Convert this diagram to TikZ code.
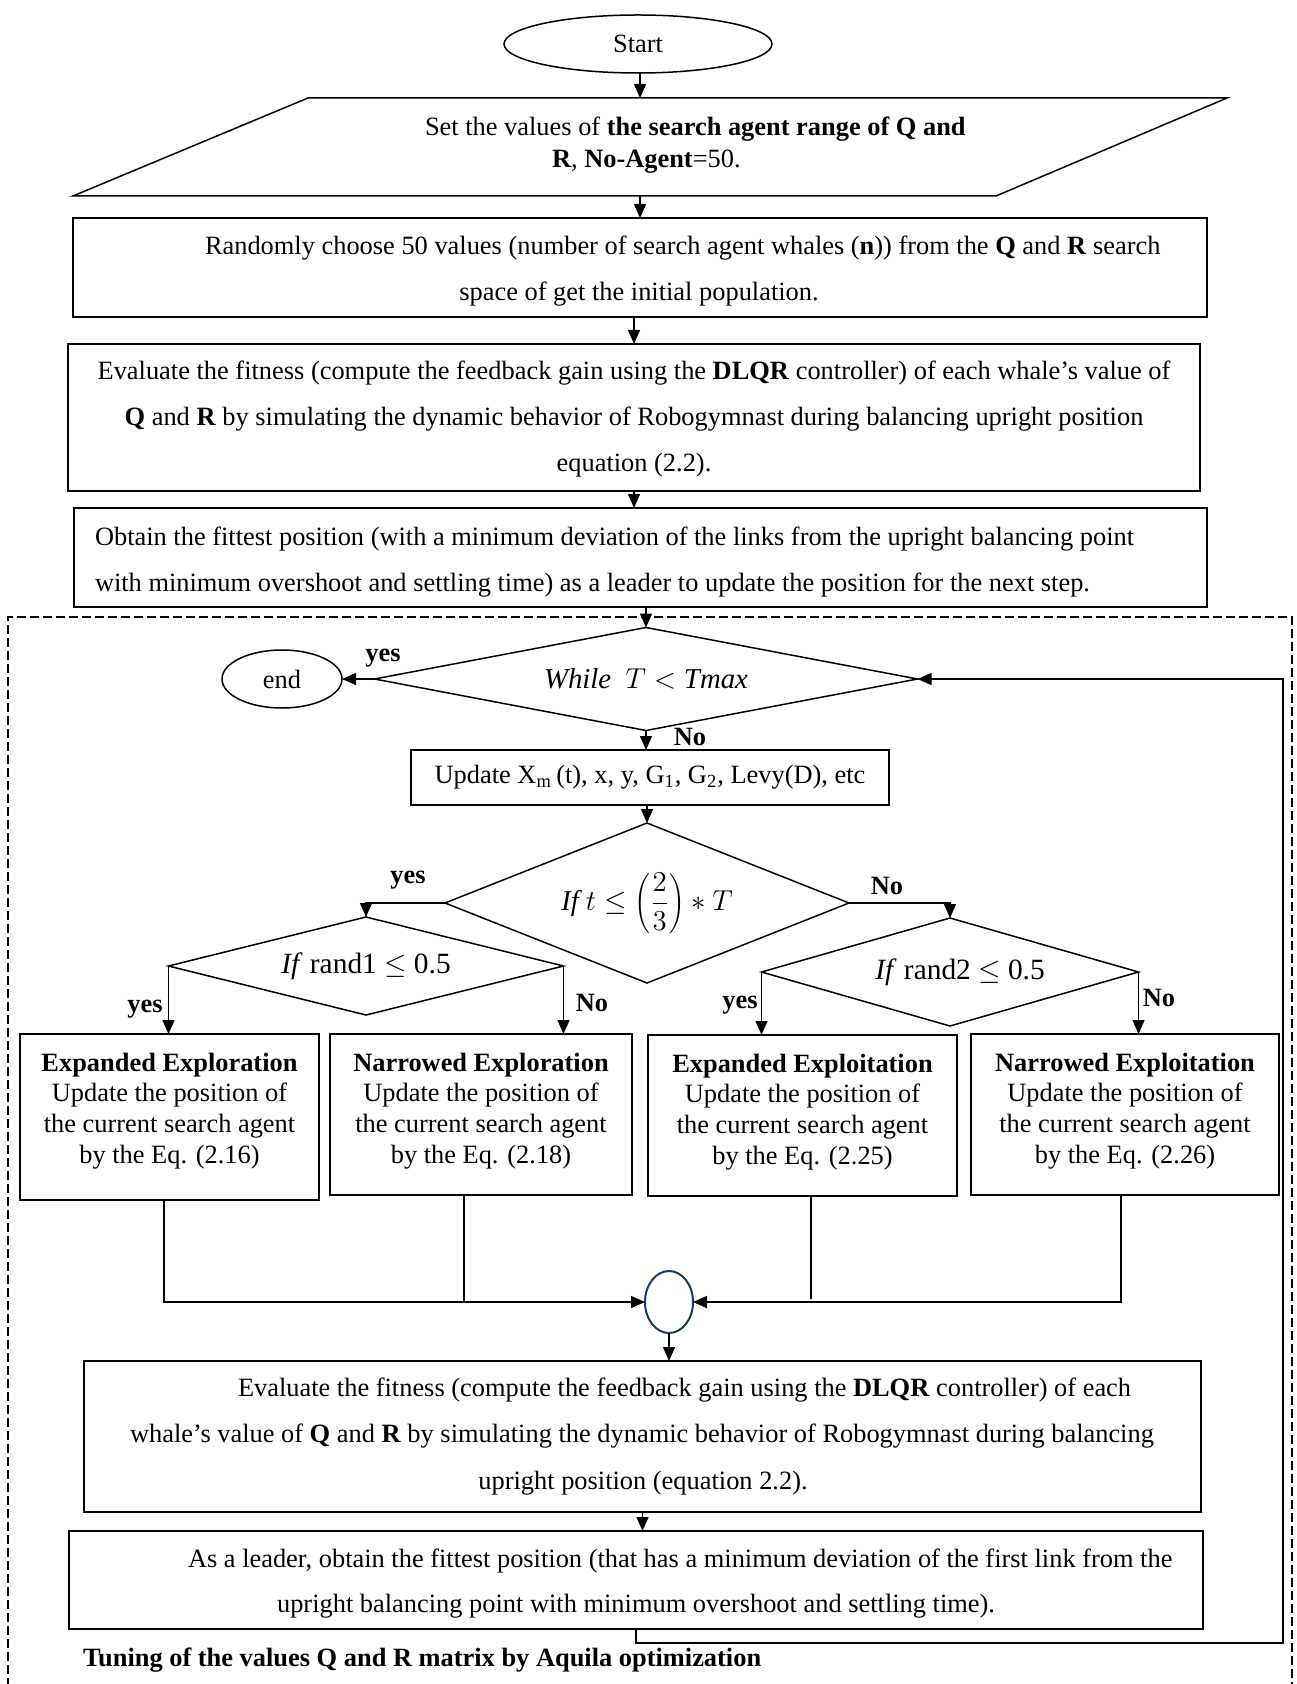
\documentclass[tikz,border=0pt]{standalone}
\usepackage{fontspec}
\setmainfont{Liberation Serif}
\usetikzlibrary{shapes.geometric, arrows.meta}
\definecolor{navy}{RGB}{31,56,100}
\begin{document}
\begin{tikzpicture}[x=0.5pt, y=-0.5pt,
  every node/.style={inner sep=0pt, outer sep=0pt},
  txt/.style={font=\fontsize{13.2}{13.65}\selectfont},
  btxt/.style={font=\fontsize{13.2}{15.4}\selectfont},
  lbl/.style={font=\fontsize{13.2}{13.65}\selectfont\bfseries},
  box/.style={draw, line width=0.8pt, rectangle},
  dec/.style={draw, line width=0.75pt, diamond},
  arr/.style={line width=0.7pt, -{Triangle[length=7pt,width=6pt]}},
  ln/.style={line width=0.7pt},
]
\useasboundingbox (0,0) rectangle (1296,1684);

% top part
\node[draw, ellipse, line width=0.75pt, minimum width=134pt, minimum height=29pt, txt] (start) at (638,44) {Start};
\node[minimum width=4pt, minimum height=49pt] (setv) at (640,147) {};
\draw[line width=0.75pt] (308,98) -- (1227,98) -- (996,196) -- (73,196) -- cycle;
\node[txt, anchor=base west] (setv1) at (425,136) {Set the values of \textbf{the search agent range of Q and}};
\node[txt, anchor=base west] (setv2) at (552,168) {\textbf{R}, \textbf{No-Agent}=50.};

\node[box, minimum width=567pt, minimum height=49.5pt] (box2) at (640,267.5) {};
\node[txt, anchor=base west] (b2a) at (205,255) {Randomly choose 50 values (number of search agent whales (\textbf{n})) from the \textbf{Q} and \textbf{R} search};
\node[txt, anchor=base] (b2b) at (639,301) {space of get the initial population.};

\node[box, minimum width=566pt, minimum height=73.5pt] (box3) at (634,417.5) {};
\node[txt, anchor=base] (b3a) at (634,380) {Evaluate the fitness (compute the feedback gain using the \textbf{DLQR} controller) of each whale’s value of};
\node[txt, anchor=base] (b3b) at (634,426) {\textbf{Q} and \textbf{R} by simulating the dynamic behavior of Robogymnast during balancing upright position};
\node[txt, anchor=base] (b3c) at (634,471) {equation (2.2).};

\node[box, minimum width=566.5pt, minimum height=49.5pt] (box4) at (640.5,557.5) {};
\node[txt, anchor=base west] (b4a) at (95,545) {Obtain the fittest position (with a minimum deviation of the links from the upright balancing point};
\node[txt, anchor=base west] (b4b) at (95,591) {with minimum overshoot and settling time) as a leader to update the position for the next step.};

% dashed frame
\draw[line width=0.9pt, dash pattern=on 4.5pt off 2pt] (8,1700) -- (8,617) -- (1292,617) -- (1292,1700);

% loop
\node[dec, aspect=5.27, minimum width=271.5pt, minimum height=51.5pt, font=\fontsize{14.4}{15}\selectfont] (while) at (646,679) {$\mathit{While}\ \ T<\mathit{Tmax}$};
\node[draw, ellipse, line width=0.75pt, minimum width=60pt, minimum height=29pt, txt] (stop) at (282,679) {end};
\node[box, minimum width=239pt, minimum height=27.5pt, txt] (upd) at (650,777.5) {Update X\textsubscript{m}\,(t), x, y, G\textsubscript{1}, G\textsubscript{2}, Levy(D), etc};
\node[dec, aspect=2.52, minimum width=202pt, minimum height=80pt, font=\fontsize{14.3}{15}\selectfont] (ift) at (647,903) {\raisebox{-1.5pt}{$\displaystyle \mathit{If}\ t\le\left(\frac{2}{3}\right)*T$}};
\node[dec, aspect=4.03, minimum width=197.5pt, minimum height=49pt, font=\fontsize{14.7}{15}\selectfont] (r1) at (366,966) {\raisebox{-3.25pt}{\textit{If} rand1 $\le$ 0.5}};
\node[dec, aspect=3.49, minimum width=188.5pt, minimum height=54pt, font=\fontsize{14.7}{15}\selectfont] (r2) at (950,972) {\raisebox{-1.5pt}{\hspace*{10pt}\textit{If} rand2 $\le$ 0.5}};

\node[box, minimum width=149.5pt, minimum height=83pt] (ea) at (169.5,1117) {};
\node[btxt, align=center] (eat) at (169.5,1111) {\textbf{Expanded Exploration}\\Update the position of\\the current search agent\\by the Eq. (2.16)};
\node[box, minimum width=151pt, minimum height=80.5pt] (nb) at (481,1114.5) {};
\node[btxt, align=center] (nbt) at (481,1111) {\textbf{Narrowed Exploration}\\Update the position of\\the current search agent\\by the Eq. (2.18)};
\node[box, minimum width=154.5pt, minimum height=80.5pt] (ec) at (802.5,1115.5) {};
\node[btxt, align=center] (ect) at (802.5,1112) {\textbf{Expanded Exploitation}\\Update the position of\\the current search agent\\by the Eq. (2.25)};
\node[box, minimum width=154pt, minimum height=80.5pt] (nd) at (1125,1114.5) {};
\node[btxt, align=center] (ndt) at (1125,1111) {\textbf{Narrowed Exploitation}\\Update the position of\\the current search agent\\by the Eq. (2.26)};

\node[draw=navy, ellipse, line width=1pt, minimum width=24pt, minimum height=31pt] (merge) at (669,1302) {};

\node[box, minimum width=558.5pt, minimum height=75.5pt] (boxE) at (642.5,1436.5) {};
\node[txt, anchor=base west] (ea1) at (238,1396) {Evaluate the fitness (compute the feedback gain using the \textbf{DLQR} controller) of each};
\node[txt, anchor=base] (ea2) at (642,1442) {whale’s value of \textbf{Q} and \textbf{R} by simulating the dynamic behavior of Robogymnast during balancing};
\node[txt, anchor=base] (ea3) at (643,1489) {upright position (equation 2.2).};

\node[box, minimum width=567pt, minimum height=49pt] (boxF) at (636,1580) {};
\node[txt, anchor=base west] (fa1) at (188,1567) {As a leader, obtain the fittest position (that has a minimum deviation of the first link from the};
\node[txt, anchor=base] (fa2) at (636,1612) {upright balancing point with minimum overshoot and settling time).};

\node[lbl, anchor=base west] (cap) at (83,1666) {Tuning of the values Q and R matrix by Aquila optimization};

% labels
\node[lbl] (y0) at (383,658) {yes};
\node[lbl] (n0) at (690,737) {No};
\node[lbl] (y1) at (408,880) {yes};
\node[lbl] (n1) at (887,886) {No};
\node[lbl] (y2) at (145,1009) {yes};
\node[lbl] (n2) at (592,1003) {No};
\node[lbl] (y3) at (740,1005) {yes};
\node[lbl] (n3) at (1159,998) {No};

% connectors
\draw[arr] (start.south -| setv.north) -- (setv.north);
\draw[arr] (setv.south) -- (setv.south |- box2.north);
\draw[arr] (box3.north |- box2.south) -- (box3.north);
\draw[arr] (box3.south) -- (box3.south |- box4.north);
\draw[arr] (while.north |- box4.south) -- (while.north);
\draw[arr] (while.west) -- (stop.east);
\draw[arr] (while.south) -- (while.south |- upd.north);
\draw[arr] (ift.north |- upd.south) -- (ift.north);
\draw[arr] (ift.west) -| (r1.north);
\draw[arr] (ift.east) -| (r2.north);
\draw[arr] (r1.west) -- (r1.west |- ea.north);
\draw[arr] (r1.east) -- (r1.east |- nb.north);
\draw[arr] (r2.west) -- (r2.west |- ec.north);
\draw[arr] (r2.east) -- (r2.east |- nd.north);
\draw[arr] ([xshift=-2.75pt]ea.south) |- (merge.west);
\draw[ln] ([xshift=-8.5pt]nb.south) -- ([xshift=-8.5pt]nb.south |- merge.west);
\draw[ln] ([xshift=4.25pt]ec.south) -- ([xshift=4.25pt,yshift=1.5pt]ec.south |- merge.east);
\draw[arr] ([xshift=-2pt]nd.south) |- (merge.east);
\draw[arr] (merge.south) -- (merge.south |- boxE.north);
\draw[arr] (boxE.south) -- (boxE.south |- boxF.north);
\coordinate (lp) at (1283,1643);
\draw[arr] (boxF.south) |- (lp) |- (while.east);
\end{tikzpicture}
\end{document}
